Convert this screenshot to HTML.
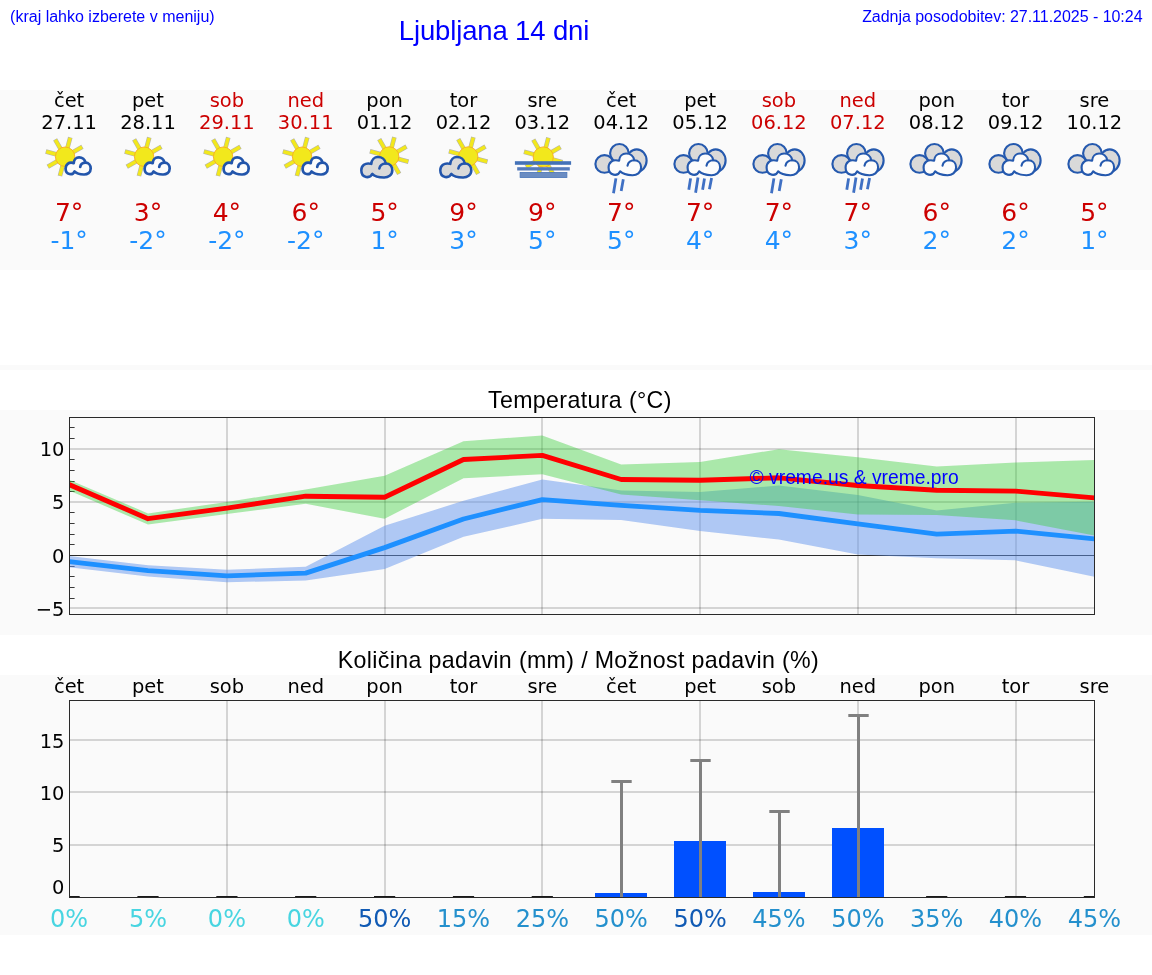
<!DOCTYPE html>
<html lang="sl"><head><meta charset="utf-8"><title>Ljubljana 14 dni</title>
<style>
html,body{margin:0;padding:0;background:#fff;}
body{width:1152px;height:975px;overflow:hidden;}
svg{display:block;will-change:transform;}
.dj{font-family:"DejaVu Sans","Liberation Sans",sans-serif;}
.ar{font-family:"Liberation Sans",Arial,Helvetica,sans-serif;}
</style></head><body>
<svg width="1152" height="975" viewBox="0 0 1152 975">
<defs>
<g id="sunA"><path d="M7.36 -4.25L17.32 -10.00M2.20 -8.21L5.18 -19.32M-4.25 -7.36L-10.00 -17.32M-8.21 -2.20L-19.32 -5.18M-7.36 4.25L-17.32 10.00M-2.20 8.21L-5.18 19.32" stroke="#98988a" stroke-width="4.6" fill="none" opacity="0.7"/><path d="M7.36 -4.25L16.89 -9.75M2.20 -8.21L5.05 -18.84M-4.25 -7.36L-9.75 -16.89M-8.21 -2.20L-18.84 -5.05M-7.36 4.25L-16.89 9.75M-2.20 8.21L-5.05 18.84" stroke="#f2e81c" stroke-width="3.4" fill="none"/><circle r="9.7" fill="#f2e81c" stroke="#f7ab22" stroke-width="0.9"/></g>
<g id="sunB"><path d="M-8.21 -2.20L-19.32 -5.18M-4.25 -7.36L-10.00 -17.32M2.20 -8.21L5.18 -19.32M7.36 -4.25L17.32 -10.00M8.21 2.20L19.32 5.18M4.25 7.36L10.00 17.32" stroke="#98988a" stroke-width="4.6" fill="none" opacity="0.7"/><path d="M-8.21 -2.20L-18.84 -5.05M-4.25 -7.36L-9.75 -16.89M2.20 -8.21L5.05 -18.84M7.36 -4.25L16.89 -9.75M8.21 2.20L18.84 5.05M4.25 7.36L9.75 16.89" stroke="#f2e81c" stroke-width="3.4" fill="none"/><circle r="9.7" fill="#f2e81c" stroke="#f7ab22" stroke-width="0.9"/></g>
<g id="sunC"><path d="M-8.21 -2.20L-19.32 -5.18M-4.25 -7.36L-10.00 -17.32M2.20 -8.21L5.18 -19.32M7.36 -4.25L17.32 -10.00M8.21 2.20L19.32 5.18M4.25 7.36L10.00 17.32M-2.20 8.21L-5.18 19.32M-7.36 4.25L-17.32 10.00" stroke="#98988a" stroke-width="4.6" fill="none" opacity="0.7"/><path d="M-8.21 -2.20L-18.84 -5.05M-4.25 -7.36L-9.75 -16.89M2.20 -8.21L5.05 -18.84M7.36 -4.25L16.89 -9.75M8.21 2.20L18.84 5.05M4.25 7.36L9.75 16.89M-2.20 8.21L-5.05 18.84M-7.36 4.25L-16.89 9.75" stroke="#f2e81c" stroke-width="3.4" fill="none"/><circle r="10.1" fill="#f2e81c" stroke="#f7ab22" stroke-width="0.9"/></g>
<g id="cloudS"><path d="M10.2 15.2 C8.6 19.2 1.3 19.2 1.3 12.3 C1.3 8.6 4.2 5.4 9.4 6.9 C9.6 3.4 12.0 1.2 14.8 1.2 C18.0 1.2 20.6 3.4 21.1 6.5 C24.4 6.5 26.4 9.0 26.4 12.3 C26.4 16.4 23.0 18.4 19.6 18.3 C15.6 18.2 12.0 17.2 10.2 15.2 Z" fill="#fcfcfc" stroke="#2255ab" stroke-width="2.7" stroke-linejoin="round"/><path d="M21.1 6.5 C18.6 6.6 16.4 8.0 15.9 10.7" fill="none" stroke="#2255ab" stroke-width="2.7" stroke-linecap="round"/></g>
<g id="cloudG"><path d="M10.2 15.2 C8.6 19.2 1.3 19.2 1.3 12.3 C1.3 8.6 4.2 5.4 9.4 6.9 C9.6 3.4 12.0 1.2 14.8 1.2 C18.0 1.2 20.6 3.4 21.1 6.5 C24.4 6.5 26.4 9.0 26.4 12.3 C26.4 16.4 23.0 18.4 19.6 18.3 C15.6 18.2 12.0 17.2 10.2 15.2 Z" fill="#d9d9d9" stroke="#2255ab" stroke-width="2.55" vector-effect="non-scaling-stroke" stroke-linejoin="round"/><path d="M21.1 6.5 C18.6 6.6 16.4 8.0 15.9 10.7" fill="none" stroke="#2255ab" stroke-width="2.55" vector-effect="non-scaling-stroke" stroke-linecap="round"/></g>
<g id="cloudB"><ellipse cx="-16.9" cy="28.95" rx="9.1" ry="8.8" fill="#d9d9d9" stroke="#2559ae" stroke-width="2.15"/><ellipse cx="15.3" cy="25.6" rx="9.9" ry="11.3" fill="#d9d9d9" stroke="#2559ae" stroke-width="2.15"/><circle cx="-2.0" cy="18.3" r="9.3" fill="#d9d9d9" stroke="#2559ae" stroke-width="2.15"/><g transform="translate(-14.5,17.0) scale(1.297,1.27)"><path d="M10.2 15.2 C8.6 19.2 1.3 19.2 1.3 12.3 C1.3 8.6 4.2 5.4 9.4 6.9 C9.6 3.4 12.0 1.2 14.8 1.2 C18.0 1.2 20.6 3.4 21.1 6.5 C24.4 6.5 26.4 9.0 26.4 12.3 C26.4 16.4 23.0 18.4 19.6 18.3 C15.6 18.2 12.0 17.2 10.2 15.2 Z" fill="#fcfcfc" stroke="#2559ae" stroke-width="2.15" vector-effect="non-scaling-stroke" stroke-linejoin="round"/><path d="M21.1 6.5 C18.6 6.6 16.4 8.0 15.9 10.7" fill="none" stroke="#2559ae" stroke-width="2.15" vector-effect="non-scaling-stroke" stroke-linecap="round"/></g></g>
<g id="rain2" stroke="#3f70c4" stroke-width="2.8" fill="none"><path d="M-5.5 43.4L-7.9 58.3M1.9 44.3L-0.2 56.0"/></g>
<g id="rain4" stroke="#3f70c4" stroke-width="2.8" fill="none"><path d="M-9.8 43.4L-11.6 54.8M-2.4 42.5L-4.8 57.8M4.1 43.4L2.2 54.8M11.2 43.1L9.0 54.2"/></g>
</defs>
<rect x="0" y="90" width="1152" height="180" fill="#fafafa"/>
<rect x="0" y="365" width="1152" height="5" fill="#fafafa"/>
<rect x="0" y="410" width="1152" height="225" fill="#fafafa"/>
<rect x="0" y="675" width="1152" height="260" fill="#fafafa"/>
<g class="ar" fill="#0000ff">
<text x="10.1" y="21.6" font-size="16">(kraj lahko izberete v meniju)</text>
<text x="494" y="39.6" font-size="27.5" letter-spacing="-0.14" text-anchor="middle">Ljubljana 14 dni</text>
<text x="1142.5" y="21.6" font-size="16" letter-spacing="-0.035" text-anchor="end">Zadnja posodobitev: 27.11.2025 - 10:24</text>
</g>
<g class="dj" font-size="19.44" text-anchor="middle">
<text x="69.1" y="106.6" fill="#000000">čet</text>
<text x="69.1" y="129.2" fill="#000000">27.11</text>
<text x="148.0" y="106.6" fill="#000000">pet</text>
<text x="148.0" y="129.2" fill="#000000">28.11</text>
<text x="226.9" y="106.6" fill="#cc0000">sob</text>
<text x="226.9" y="129.2" fill="#cc0000">29.11</text>
<text x="305.7" y="106.6" fill="#cc0000">ned</text>
<text x="305.7" y="129.2" fill="#cc0000">30.11</text>
<text x="384.6" y="106.6" fill="#000000">pon</text>
<text x="384.6" y="129.2" fill="#000000">01.12</text>
<text x="463.5" y="106.6" fill="#000000">tor</text>
<text x="463.5" y="129.2" fill="#000000">02.12</text>
<text x="542.3" y="106.6" fill="#000000">sre</text>
<text x="542.3" y="129.2" fill="#000000">03.12</text>
<text x="621.2" y="106.6" fill="#000000">čet</text>
<text x="621.2" y="129.2" fill="#000000">04.12</text>
<text x="700.1" y="106.6" fill="#000000">pet</text>
<text x="700.1" y="129.2" fill="#000000">05.12</text>
<text x="778.9" y="106.6" fill="#cc0000">sob</text>
<text x="778.9" y="129.2" fill="#cc0000">06.12</text>
<text x="857.8" y="106.6" fill="#cc0000">ned</text>
<text x="857.8" y="129.2" fill="#cc0000">07.12</text>
<text x="936.7" y="106.6" fill="#000000">pon</text>
<text x="936.7" y="129.2" fill="#000000">08.12</text>
<text x="1015.5" y="106.6" fill="#000000">tor</text>
<text x="1015.5" y="129.2" fill="#000000">09.12</text>
<text x="1094.4" y="106.6" fill="#000000">sre</text>
<text x="1094.4" y="129.2" fill="#000000">10.12</text>
</g>
<g class="dj" font-size="25" text-anchor="middle">
<text x="69.1" y="221" fill="#cc0000">7°</text>
<text x="69.1" y="249" fill="#1e90ff">-1°</text>
<text x="148.0" y="221" fill="#cc0000">3°</text>
<text x="148.0" y="249" fill="#1e90ff">-2°</text>
<text x="226.9" y="221" fill="#cc0000">4°</text>
<text x="226.9" y="249" fill="#1e90ff">-2°</text>
<text x="305.7" y="221" fill="#cc0000">6°</text>
<text x="305.7" y="249" fill="#1e90ff">-2°</text>
<text x="384.6" y="221" fill="#cc0000">5°</text>
<text x="384.6" y="249" fill="#1e90ff">1°</text>
<text x="463.5" y="221" fill="#cc0000">9°</text>
<text x="463.5" y="249" fill="#1e90ff">3°</text>
<text x="542.3" y="221" fill="#cc0000">9°</text>
<text x="542.3" y="249" fill="#1e90ff">5°</text>
<text x="621.2" y="221" fill="#cc0000">7°</text>
<text x="621.2" y="249" fill="#1e90ff">5°</text>
<text x="700.1" y="221" fill="#cc0000">7°</text>
<text x="700.1" y="249" fill="#1e90ff">4°</text>
<text x="778.9" y="221" fill="#cc0000">7°</text>
<text x="778.9" y="249" fill="#1e90ff">4°</text>
<text x="857.8" y="221" fill="#cc0000">7°</text>
<text x="857.8" y="249" fill="#1e90ff">3°</text>
<text x="936.7" y="221" fill="#cc0000">6°</text>
<text x="936.7" y="249" fill="#1e90ff">2°</text>
<text x="1015.5" y="221" fill="#cc0000">6°</text>
<text x="1015.5" y="249" fill="#1e90ff">2°</text>
<text x="1094.4" y="221" fill="#cc0000">5°</text>
<text x="1094.4" y="249" fill="#1e90ff">1°</text>
</g>
<use href="#sunA" x="65.1" y="156.7"/>
<use href="#cloudS" x="64.3" y="156.2"/>
<use href="#sunA" x="144.1" y="156.7"/>
<use href="#cloudS" x="143.3" y="156.2"/>
<use href="#sunA" x="223.1" y="156.7"/>
<use href="#cloudS" x="222.3" y="156.2"/>
<use href="#sunA" x="302.1" y="156.7"/>
<use href="#cloudS" x="301.3" y="156.2"/>
<use href="#sunB" x="389.2" y="156.5"/>
<g transform="translate(359.7,155.6) scale(1.235,1.2)"><use href="#cloudG"/></g>
<use href="#sunB" x="468.2" y="156.5"/>
<g transform="translate(438.7,155.6) scale(1.235,1.2)"><use href="#cloudG"/></g>
<use href="#sunC" x="543.25" y="157.0"/>
<rect x="514.9" y="161.2" width="56.2" height="3.6" fill="#4472b8"/>
<rect x="517.2" y="167.2" width="52.6" height="3.3" fill="#557bbc"/>
<rect x="520.1" y="172.4" width="46.8" height="5.2" fill="#6a8cc2" stroke="#4a76ba" stroke-width="0.8"/>
<use href="#cloudB" x="621.4" y="135"/>
<use href="#rain2" x="621.4" y="135"/>
<use href="#cloudB" x="700.4" y="135"/>
<use href="#rain4" x="700.4" y="135"/>
<use href="#cloudB" x="779.4" y="135"/>
<use href="#rain2" x="779.4" y="135"/>
<use href="#cloudB" x="858.4" y="135"/>
<use href="#rain4" x="858.4" y="135"/>
<use href="#cloudB" x="936.4" y="135"/>
<use href="#cloudB" x="1015.4" y="135"/>
<use href="#cloudB" x="1094.4" y="135"/>
<text class="ar" x="579.9" y="407.8" font-size="23.2" letter-spacing="0.36" text-anchor="middle" fill="#000">Temperatura (°C)</text>
<clipPath id="ct"><rect x="69.5" y="417.5" width="1025" height="197"/></clipPath>
<g fill="#000" fill-opacity="0.15">
<rect x="226" y="418" width="2" height="196"/>
<rect x="384" y="418" width="2" height="196"/>
<rect x="541" y="418" width="2" height="196"/>
<rect x="699" y="418" width="2" height="196"/>
<rect x="857" y="418" width="2" height="196"/>
<rect x="1015" y="418" width="2" height="196"/>
<rect x="70" y="448" width="1024" height="2"/>
<rect x="70" y="501" width="1024" height="2"/>
<rect x="70" y="607" width="1024" height="2"/>
</g>
<rect x="70" y="555" width="1024" height="1" fill="#2a2a2a"/>
<g fill="#3a3a3a">
<rect x="70" y="598" width="4.6" height="1"/>
<rect x="70" y="587" width="4.6" height="1"/>
<rect x="70" y="576" width="4.6" height="1"/>
<rect x="70" y="566" width="4.6" height="1"/>
<rect x="70" y="544" width="4.6" height="1"/>
<rect x="70" y="534" width="4.6" height="1"/>
<rect x="70" y="523" width="4.6" height="1"/>
<rect x="70" y="512" width="4.6" height="1"/>
<rect x="70" y="491" width="4.6" height="1"/>
<rect x="70" y="481" width="4.6" height="1"/>
<rect x="70" y="470" width="4.6" height="1"/>
<rect x="70" y="459" width="4.6" height="1"/>
<rect x="70" y="438" width="4.6" height="1"/>
<rect x="70" y="427" width="4.6" height="1"/>
</g>
<g clip-path="url(#ct)">
<polygon points="69.1,556.1 148.0,565.3 226.9,569.8 305.7,566.7 384.6,525.8 463.5,500.8 542.3,479.5 621.2,490.6 700.1,492.1 778.9,485.6 857.8,494.9 936.7,510.5 1015.5,502.7 1094.4,501.8 1094.4,576.8 1015.5,560.3 936.7,558.2 857.8,554.4 778.9,539.5 700.1,531.0 621.2,519.9 542.3,518.8 463.5,536.8 384.6,569.0 305.7,580.6 226.9,582.2 148.0,576.5 69.1,567.2" fill="#6495ed" fill-opacity="0.5"/>
<polygon points="69.1,479.7 148.0,513.4 226.9,501.9 305.7,489.6 384.6,475.7 463.5,441.3 542.3,435.4 621.2,464.5 700.1,462.0 778.9,449.2 857.8,457.2 936.7,466.5 1015.5,462.6 1094.4,460.1 1094.4,535.4 1015.5,520.3 936.7,514.9 857.8,514.5 778.9,506.0 700.1,500.2 621.2,494.6 542.3,474.3 463.5,478.2 384.6,518.8 305.7,503.8 226.9,514.1 148.0,524.6 69.1,490.5" fill="#32cd32" fill-opacity="0.4"/>
<polyline points="69.1,561.6 148.0,570.6 226.9,575.9 305.7,573.1 384.6,547.6 463.5,519.0 542.3,499.6 621.2,505.3 700.1,510.4 778.9,513.5 857.8,523.9 936.7,534.1 1015.5,531.1 1094.4,538.9" fill="none" stroke="#1e90ff" stroke-width="4.86" stroke-linejoin="round"/>
<polyline points="69.1,484.6 148.0,518.7 226.9,508.1 305.7,496.2 384.6,497.3 463.5,459.5 542.3,455.4 621.2,479.5 700.1,480.3 778.9,477.8 857.8,485.5 936.7,490.3 1015.5,491.1 1094.4,497.9" fill="none" stroke="#ff0000" stroke-width="4.86" stroke-linejoin="round"/>
</g>
<text class="ar" x="749.5" y="484.0" font-size="19.3" fill="#0000ff">© vreme.us &amp; vreme.pro</text>
<rect x="69.5" y="417.5" width="1025.0" height="197.0" fill="none" stroke="#2a2a2a" stroke-width="1"/>
<g class="dj" font-size="19.44" text-anchor="end" fill="#000">
<text x="64.4" y="456.2">10</text>
<text x="64.4" y="509.4">5</text>
<text x="64.4" y="562.6">0</text>
<text x="64.4" y="615.6">−5</text>
</g>
<text class="ar" x="578.4" y="667.8" font-size="23.2" letter-spacing="0.345" text-anchor="middle" fill="#000">Količina padavin (mm) / Možnost padavin (%)</text>
<g class="dj" font-size="19.44" text-anchor="middle" fill="#000">
<text x="69.1" y="693">čet</text>
<text x="148.0" y="693">pet</text>
<text x="226.9" y="693">sob</text>
<text x="305.7" y="693">ned</text>
<text x="384.6" y="693">pon</text>
<text x="463.5" y="693">tor</text>
<text x="542.3" y="693">sre</text>
<text x="621.2" y="693">čet</text>
<text x="700.1" y="693">pet</text>
<text x="778.9" y="693">sob</text>
<text x="857.8" y="693">ned</text>
<text x="936.7" y="693">pon</text>
<text x="1015.5" y="693">tor</text>
<text x="1094.4" y="693">sre</text>
</g>
<g fill="#000" fill-opacity="0.15">
<rect x="226" y="701" width="2" height="196"/>
<rect x="384" y="701" width="2" height="196"/>
<rect x="541" y="701" width="2" height="196"/>
<rect x="699" y="701" width="2" height="196"/>
<rect x="857" y="701" width="2" height="196"/>
<rect x="1015" y="701" width="2" height="196"/>
<rect x="70" y="739" width="1024" height="2"/>
<rect x="70" y="791" width="1024" height="2"/>
<rect x="70" y="844" width="1024" height="2"/>
</g>
<rect x="595" y="893" width="52" height="4" fill="#0050ff"/>
<rect x="674" y="841" width="52" height="56" fill="#0050ff"/>
<rect x="753" y="892" width="52" height="5" fill="#0050ff"/>
<rect x="832" y="828" width="52" height="69" fill="#0050ff"/>
<g fill="#808080">
<rect x="69.5" y="896" width="10.2" height="2" fill="#1a1a1a"/>
<rect x="137.4" y="896" width="21.2" height="2" fill="#1a1a1a"/>
<rect x="216.3" y="896" width="21.2" height="2" fill="#1a1a1a"/>
<rect x="295.1" y="896" width="21.2" height="2" fill="#1a1a1a"/>
<rect x="374.0" y="896" width="21.2" height="2" fill="#1a1a1a"/>
<rect x="452.9" y="896" width="21.2" height="2" fill="#1a1a1a"/>
<rect x="531.7" y="896" width="21.2" height="2" fill="#1a1a1a"/>
<rect x="620.0" y="780.0" width="3" height="117.0"/>
<rect x="611.3" y="780.0" width="20.4" height="3"/>
<rect x="699.0" y="759.0" width="3" height="138.0"/>
<rect x="690.3" y="759.0" width="20.4" height="3"/>
<rect x="778.0" y="810.0" width="3" height="87.0"/>
<rect x="769.3" y="810.0" width="20.4" height="3"/>
<rect x="857.0" y="714.0" width="3" height="183.0"/>
<rect x="848.3" y="714.0" width="20.4" height="3"/>
<rect x="926.1" y="896" width="21.2" height="2" fill="#1a1a1a"/>
<rect x="1004.9" y="896" width="21.2" height="2" fill="#1a1a1a"/>
<rect x="1083.8" y="896" width="10.7" height="2" fill="#1a1a1a"/>
</g>
<clipPath id="cp"><rect x="0" y="0" width="1095" height="975"/></clipPath>
<rect x="69.5" y="700.5" width="1025.0" height="197.0" fill="none" stroke="#2a2a2a" stroke-width="1"/>
<g class="dj" font-size="19.44" text-anchor="end" fill="#000">
<text x="64.4" y="747.8">15</text>
<text x="64.4" y="800.1">10</text>
<text x="64.4" y="852.4">5</text>
<text x="64.4" y="893.6">0</text>
</g>
<g class="dj" font-size="24" text-anchor="middle">
<text x="69.1" y="926.7" fill="#48d5e1">0%</text>
<text x="148.0" y="926.7" fill="#48d5e1">5%</text>
<text x="226.9" y="926.7" fill="#48d5e1">0%</text>
<text x="305.7" y="926.7" fill="#48d5e1">0%</text>
<text x="384.6" y="926.7" fill="#105ab4">50%</text>
<text x="463.5" y="926.7" fill="#2490cd">15%</text>
<text x="542.3" y="926.7" fill="#2490cd">25%</text>
<text x="621.2" y="926.7" fill="#2490cd">50%</text>
<text x="700.1" y="926.7" fill="#105ab4">50%</text>
<text x="778.9" y="926.7" fill="#2490cd">45%</text>
<text x="857.8" y="926.7" fill="#2490cd">50%</text>
<text x="936.7" y="926.7" fill="#2490cd">35%</text>
<text x="1015.5" y="926.7" fill="#2490cd">40%</text>
<text x="1094.4" y="926.7" fill="#2490cd">45%</text>
</g>
</svg></body></html>
